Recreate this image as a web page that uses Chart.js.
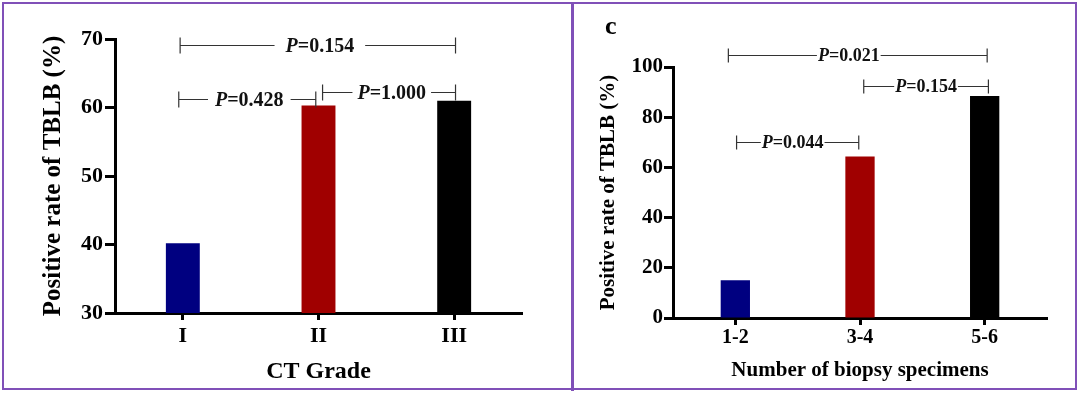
<!DOCTYPE html>
<html><head><meta charset="utf-8">
<script src="https://cdn.jsdelivr.net/npm/chart.js@4/dist/chart.umd.min.js"></script>
<style>
html,body{margin:0;padding:0;background:#fff;}
#wrap{position:relative;width:1080px;height:396px;overflow:hidden;background:#fff;}
#left{position:absolute;left:0;top:0;}
#right{position:absolute;left:572px;top:0;}
.frame{position:absolute;left:2px;top:2px;width:1071px;height:384px;border:2.5px solid #8050b8;pointer-events:none;}
.divider{position:absolute;left:571px;top:2px;width:2.5px;height:389px;background:#8050b8;}
#panelC{position:absolute;left:605px;top:13px;font:bold 26px 'Liberation Serif','Times New Roman',serif;line-height:26px;color:#000;}
</style></head>
<body>
<div id="wrap">
  <canvas id="left" width="572" height="396"></canvas>
  <canvas id="right" width="508" height="396"></canvas>
  <div class="frame"></div>
  <div class="divider"></div>
  <div id="panelC">c</div>
</div>
<script>
// ---- data ----
const gradeLabels = ['I', 'II', 'III'];
const gradeRates = [40.2, 60.3, 61.0];
const gradeTicks = [30, 40, 50, 60, 70];
const gradePairs = [[0, 2], [0, 1], [1, 2]];
const gradePValues = ['0.154', '0.428', '1.000'];

const specimenLabels = ['1-2', '3-4', '5-6'];
const specimenRates = [15, 64.3, 88.4];
const specimenTicks = [0, 20, 40, 60, 80, 100];
const specimenPairs = [[0, 2], [1, 2], [0, 1]];
const specimenPValues = ['0.021', '0.154', '0.044'];

const barColors = ['#000080', '#a00000', '#000000'];
const yTitle = 'Positive rate of TBLB (%)';

// ---- bracket layout (positions, not data) ----
const gradeBracketLayout = [
  {level: 69.1, d0: -0.02, d1: 0.01, at: 1.01, gap: 11},
  {level: 61.2, d0: -0.03, d1: -0.02, at: 0.49, gap: 7},
  {level: 62.2, d0: 0.03, d1: 0.01, at: 1.54, gap: 5}
];
const specimenBracketLayout = [
  {level: 104.8, d0: -0.056, d1: 0.02, at: 0.91, gap: 1},
  {level: 92.4, d0: 0.03, d1: 0.03, at: 1.53, gap: 1},
  {level: 70.2, d0: 0.01, d1: -0.01, at: 0.46, gap: 1}
];

const FAMILY = "'Liberation Serif','Times New Roman',serif";

const bracketPlugin = {
  id: 'brackets',
  afterDatasetsDraw(chart, args, opts) {
    const ctx = chart.ctx;
    const xs = chart.scales.x, ys = chart.scales.y;
    const size = opts.size;
    opts.pairs.forEach((pair, i) => {
      const L = opts.layout[i];
      const x0 = xs.getPixelForValue(pair[0] + L.d0);
      const x1 = xs.getPixelForValue(pair[1] + L.d1);
      const yy = Math.round(ys.getPixelForValue(L.level)) + 0.5;
      const tx = xs.getPixelForValue(L.at);
      ctx.save();
      ctx.font = `italic bold ${size}px ${FAMILY}`;
      const wP = ctx.measureText('P').width;
      ctx.font = `bold ${size}px ${FAMILY}`;
      const rest = '=' + opts.values[i];
      const wR = ctx.measureText(rest).width;
      const w = wP + wR;
      const tl = tx - w / 2;
      const cap = opts.cap;
      ctx.strokeStyle = '#333';
      ctx.lineWidth = 1.2;
      ctx.beginPath();
      ctx.moveTo(x0, yy - cap); ctx.lineTo(x0, yy + cap);
      ctx.moveTo(x1, yy - cap); ctx.lineTo(x1, yy + cap);
      ctx.moveTo(x0, yy); ctx.lineTo(tl - L.gap, yy);
      ctx.moveTo(tl + w + L.gap, yy); ctx.lineTo(x1, yy);
      ctx.stroke();
      ctx.fillStyle = '#111';
      ctx.textBaseline = 'alphabetic';
      ctx.textAlign = 'left';
      const base = yy + size * 0.33;
      ctx.font = `italic bold ${size}px ${FAMILY}`;
      ctx.fillText('P', tl, base);
      ctx.font = `bold ${size}px ${FAMILY}`;
      ctx.fillText(rest, tl + wP, base);
      ctx.restore();
    });
  }
};

function makeChart(id, labels, values, ticks, c) {
  return new Chart(document.getElementById(id), {
    type: 'bar',
    data: {
      labels: labels,
      datasets: [{
        data: values,
        backgroundColor: barColors,
        borderWidth: 0,
        barPercentage: c.barPct,
        categoryPercentage: 1
      }]
    },
    plugins: [bracketPlugin],
    options: {
      responsive: false,
      animation: false,
      devicePixelRatio: 1,
      layout: {padding: c.padding},
      plugins: {
        legend: {display: false},
        tooltip: {enabled: false},
        brackets: {pairs: c.pairs, values: c.pvals, layout: c.blayout, size: c.pSize, cap: c.cap}
      },
      scales: {
        x: {
          grid: {display: true, drawOnChartArea: false, offset: false, tickLength: 7, tickWidth: 3, tickColor: '#000'},
          border: {display: true, color: '#000', width: 3},
          ticks: {color: '#000', padding: c.xTickPad, font: {family: FAMILY, size: c.xTickSize, weight: 'bold'}},
          title: {display: true, text: c.xTitle, color: '#000', padding: {top: 0, bottom: c.xTitlePad},
                  font: {family: FAMILY, size: c.xTitleSize, weight: 'bold'}},
          afterFit(s) { s.height = c.xHeight; s.paddingLeft = 0; s.paddingRight = 0; s.paddingTop = 0; s.paddingBottom = 0; }
        },
        y: {
          min: ticks[0],
          max: ticks[ticks.length - 1],
          afterBuildTicks(s) { s.ticks = ticks.map(v => ({value: v})); },
          grid: {display: true, drawOnChartArea: false, tickLength: c.yTickLen, tickWidth: 3, tickColor: '#000'},
          border: {display: true, color: '#000', width: 3},
          ticks: {color: '#000', padding: c.yTickPad, font: {family: FAMILY, size: c.yTickSize, weight: 'bold'}},
          title: {display: true, text: yTitle, color: '#000', padding: {top: c.yTitlePad, bottom: 0},
                  font: {family: FAMILY, size: c.yTitleSize, weight: 'bold'}},
          afterFit(s) { s.width = c.yWidth; s.paddingLeft = 0; s.paddingRight = 0; s.paddingTop = 0; s.paddingBottom = 0; }
        }
      }
    }
  });
}

makeChart('left', gradeLabels, gradeRates, gradeTicks, {
  barPct: 0.25,
  padding: {left: 0, top: 39, right: 50, bottom: 0},
  xHeight: 83, yWidth: 115,
  xTitle: 'CT Grade', xTitleSize: 24, xTitlePad: 10,
  xTickSize: 22, xTickPad: 3,
  yTickSize: 22, yTickPad: 2, yTickLen: 10,
  yTitleSize: 25, yTitlePad: 39,
  pairs: gradePairs, pvals: gradePValues, blayout: gradeBracketLayout, pSize: 20, cap: 8
});

makeChart('right', specimenLabels, specimenRates, specimenTicks, {
  barPct: 0.235,
  padding: {left: 0, top: 67, right: 33, bottom: 0},
  xHeight: 78, yWidth: 101,
  xTitle: 'Number of biopsy specimens', xTitleSize: 21, xTitlePad: 13,
  xTickSize: 20, xTickPad: 1,
  yTickSize: 21, yTickPad: 1, yTickLen: 9,
  yTitleSize: 21, yTitlePad: 24,
  pairs: specimenPairs, pvals: specimenPValues, blayout: specimenBracketLayout, pSize: 18, cap: 7
});
</script>
</body></html>
